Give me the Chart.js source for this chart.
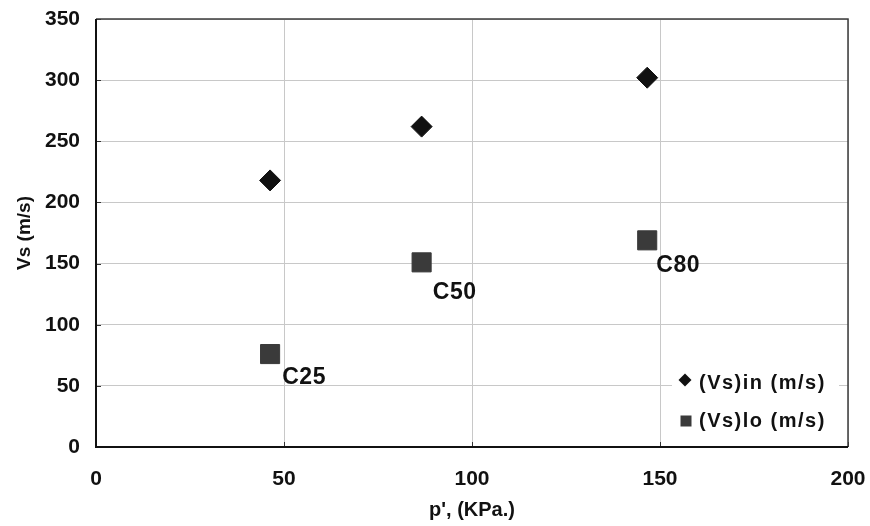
<!DOCTYPE html>
<html>
<head>
<meta charset="utf-8">
<script src="https://cdn.jsdelivr.net/npm/chart.js@4.4.1/dist/chart.umd.min.js"></script>
<style>
  html, body { margin: 0; padding: 0; background: #ffffff; }
  #wrap { width: 870px; height: 526px; position: relative; }
</style>
</head>
<body>
<div id="wrap"><canvas id="chart"></canvas></div>
<script>
// Mean effective stress p' (kPa) for each sample
const pressure = [46.3, 86.6, 146.6];
// Shear wave velocity series (m/s)
const vsIn = [218, 262, 302];
const vsLo = [76, 151, 169];
const sampleNames = ['C25', 'C50', 'C80'];
const seriesNames = ['(Vs)in (m/s)', '(Vs)lo (m/s)'];
const xTickValues = [0, 50, 100, 150, 200];
const yTickValues = [0, 50, 100, 150, 200, 250, 300, 350];

const FONT = "'Liberation Sans', Arial, sans-serif";
const INK = '#111111';
const SQUARE_FILL = '#3a3a3a';

// Sample name placement relative to each (Vs)lo point, in pixels
const nameOffsets = [[34, 24], [33, 30], [31, 25]];

const toPoints = (ys) => ys.map((y, i) => ({ x: pressure[i], y }));

// Plot frame, inward tick marks, in-plot legend and sample names
const decorations = {
  id: 'decorations',
  afterDatasetsDraw(chart) {
    const { ctx, chartArea: ca, scales } = chart;
    ctx.save();

    // inward tick marks
    ctx.strokeStyle = '#333333';
    ctx.lineWidth = 1;
    ctx.beginPath();
    xTickValues.forEach(v => {
      const px = Math.round(scales.x.getPixelForValue(v)) + 0.5;
      ctx.moveTo(px, ca.bottom);
      ctx.lineTo(px, ca.bottom - 5);
    });
    yTickValues.forEach(v => {
      const py = Math.round(scales.y.getPixelForValue(v)) + 0.5;
      ctx.moveTo(ca.left, py);
      ctx.lineTo(ca.left + 5, py);
    });
    ctx.stroke();

    // frame: top and right lighter, axes heavier
    ctx.strokeStyle = '#3c3c3c';
    ctx.lineWidth = 1.5;
    ctx.beginPath();
    ctx.moveTo(ca.left, ca.top);
    ctx.lineTo(ca.right, ca.top);
    ctx.lineTo(ca.right, ca.bottom);
    ctx.stroke();
    ctx.strokeStyle = INK;
    ctx.lineWidth = 2;
    ctx.beginPath();
    ctx.moveTo(ca.left, ca.top);
    ctx.lineTo(ca.left, ca.bottom);
    ctx.lineTo(ca.right, ca.bottom);
    ctx.stroke();

    // legend box
    const boxRight = ca.right - 9;
    const boxLeft = ca.right - 176;
    ctx.fillStyle = '#ffffff';
    ctx.fillRect(boxLeft, ca.bottom - 84, boxRight - boxLeft, 77);

    const markerX = ca.right - 163;
    const textX = ca.right - 149;
    const rowY = [ca.bottom - 64, ca.bottom - 26];

    // diamond marker
    ctx.fillStyle = INK;
    ctx.beginPath();
    const d = 6.5, dy = rowY[0] - 3;
    ctx.moveTo(markerX, dy - d);
    ctx.lineTo(markerX + d, dy);
    ctx.lineTo(markerX, dy + d);
    ctx.lineTo(markerX - d, dy);
    ctx.closePath();
    ctx.fill();
    // square marker
    ctx.fillStyle = SQUARE_FILL;
    ctx.fillRect(markerX - 4.5, rowY[1] - 5.5, 11, 11);

    ctx.fillStyle = INK;
    ctx.font = `bold 20px ${FONT}`;
    ctx.textAlign = 'left';
    ctx.textBaseline = 'middle';
    ctx.letterSpacing = '1.5px';
    seriesNames.forEach((name, i) => ctx.fillText(name, textX, rowY[i]));

    // sample names next to the (Vs)lo points
    ctx.font = `bold 23px ${FONT}`;
    ctx.letterSpacing = '0.5px';
    ctx.textAlign = 'center';
    const meta = chart.getDatasetMeta(1);
    meta.data.forEach((pt, i) => {
      const [ox, oy] = nameOffsets[i];
      ctx.fillText(sampleNames[i], pt.x + ox, pt.y + oy);
    });
    ctx.letterSpacing = '0px';
    ctx.restore();
  }
};

new Chart(document.getElementById('chart'), {
  type: 'scatter',
  data: {
    datasets: [
      {
        label: seriesNames[0],
        data: toPoints(vsIn),
        pointStyle: 'rectRot',
        pointRadius: 10.5,
        pointBorderWidth: 1,
        backgroundColor: INK,
        borderColor: INK
      },
      {
        label: seriesNames[1],
        data: toPoints(vsLo),
        pointStyle: 'rect',
        pointRadius: 13.5,
        pointBorderWidth: 1,
        backgroundColor: SQUARE_FILL,
        borderColor: SQUARE_FILL
      }
    ]
  },
  options: {
    responsive: true,
    maintainAspectRatio: false,
    animation: false,
    devicePixelRatio: 1,
    layout: { padding: { top: 19, right: 22, left: 0, bottom: 0 } },
    plugins: {
      legend: { display: false },
      tooltip: { enabled: false }
    },
    scales: {
      x: {
        type: 'linear',
        min: 0,
        max: 200,
        afterBuildTicks: (s) => { s.ticks = xTickValues.map(v => ({ value: v })); },
        afterFit: (s) => { s.height = 79; s.paddingLeft = 0; s.paddingRight = 0; },
        grid: { color: '#c8c8c8', lineWidth: 1, drawTicks: false },
        border: { display: false },
        ticks: { color: INK, padding: 20, font: { family: FONT, size: 21, weight: 'bold' } },
        title: {
          display: true,
          text: "p', (KPa.)",
          color: INK,
          font: { family: FONT, size: 20, weight: 'bold' },
          padding: { top: 0, bottom: 4 }
        }
      },
      y: {
        type: 'linear',
        min: 0,
        max: 350,
        afterBuildTicks: (s) => { s.ticks = yTickValues.map(v => ({ value: v })); },
        afterFit: (s) => { s.width = 96; s.paddingTop = 0; s.paddingBottom = 0; },
        grid: { color: '#c8c8c8', lineWidth: 1, drawTicks: false },
        border: { display: false },
        ticks: { color: INK, padding: 16, font: { family: FONT, size: 21, weight: 'bold' } },
        title: {
          display: true,
          text: 'Vs (m/s)',
          color: INK,
          font: { family: FONT, size: 19, weight: 'bold' },
          padding: { top: 13, bottom: 0 }
        }
      }
    }
  },
  plugins: [decorations]
});
</script>
</body>
</html>
